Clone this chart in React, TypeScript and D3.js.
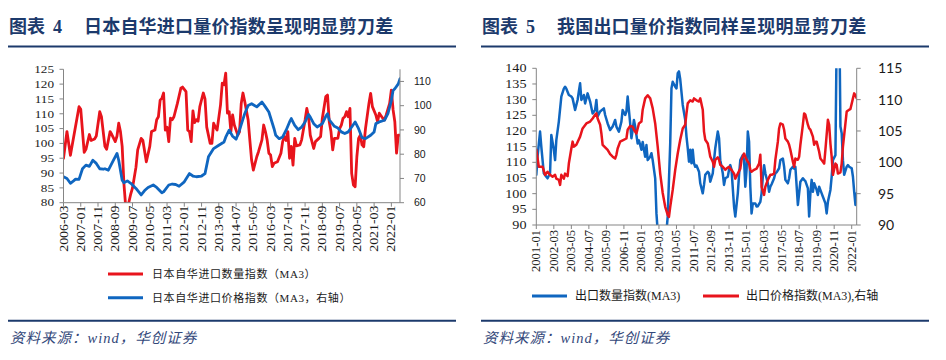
import React from "react";
import * as d3 from "d3";

// 图表4 日本自华进口：[距 2006-03 的月数, 指数]
const jpStart = "2006-03";
const jpQty: [number, number][] = [
  [0, 95], [2, 104], [4, 96], [9, 112.4], [10, 111.5], [12, 97], [13, 98], [15, 103], [16, 101], [18, 101.5],
  [19, 102.5], [21, 110.7], [22, 109], [24, 99], [25, 98], [27, 104], [28, 103], [30, 100.6], [31, 102.5], [32, 106.8],
  [33, 104], [34, 99], [35, 86.5], [36, 79], [37, 77.5], [38, 80.5], [39, 83], [40, 85], [42, 92], [43, 97.8],
  [45, 101.7], [46, 101], [48, 93.8], [50, 99], [51, 104], [53, 104.5], [54, 108], [55, 109], [56, 114.6], [57, 115.2],
  [58, 117], [59, 104.5], [60, 105.5], [61, 100.6], [62, 108.5], [63, 108], [64, 109], [66, 113.5], [68, 118.6], [69, 119],
  [71, 117.5], [72, 104.5], [73, 104], [74, 100.6], [75, 111], [76, 107], [77, 108], [78, 107.5], [79, 112.4], [81, 117],
  [82, 115], [83, 105.5], [85, 100], [86, 100], [87, 106.8], [88, 105.5], [89, 104.5], [91, 113], [92, 120.3], [93, 119.8],
  [94, 123.7], [95, 110.2], [96, 110.7], [97, 104], [98, 109.6], [99, 106.2], [101, 102.8], [102, 103.9], [103, 113.5], [104, 117],
  [105, 114.2], [107, 107.9], [108, 101], [109, 94.4], [110, 91], [112, 95.5], [113, 97.2], [115, 101.2], [116, 106.2], [117, 104],
  [118, 101.2], [119, 96.7], [120, 96.1], [121, 92.2], [122, 93.3], [124, 93.8], [126, 96.7], [127, 100.6], [128, 102.3], [129, 101],
  [130, 104], [131, 95], [132, 99], [133, 92.7], [134, 101.7], [135, 99.2], [137, 99.5], [138, 101.2], [140, 107.9], [141, 111.8],
  [142, 109], [143, 102.8], [145, 98.3], [146, 100.6], [148, 101.7], [149, 102.3], [150, 108.5], [152, 115.8], [153, 116.3], [154, 107.3],
  [155, 104], [156, 97.8], [157, 101.7], [159, 101.7], [160, 105], [161, 106.2], [162, 108.5], [163, 109], [164, 110.7], [165, 109],
  [166, 111.8], [167, 89.9], [168, 86], [169, 85.4], [170, 95.5], [171, 101.7], [172, 102.8], [173, 99.5], [174, 98.9], [175, 105],
  [177, 113.5], [178, 116.9], [179, 112.4], [181, 109.6], [182, 107.3], [183, 110.2], [185, 108.5], [186, 107.9], [187, 109.6], [189, 113.5],
  [190, 118], [191, 111.3], [192, 107.3], [193, 96.7], [194, 102.8], [195, 102.8],
];
const jpPrice: [number, number][] = [
  [0, 70.7], [2, 70], [4, 68], [6, 69.1], [7, 69.7], [9, 69.6], [11, 74], [13, 75.5], [15, 75], [17, 77.5],
  [19, 76.2], [21, 74], [23, 73.8], [24, 74], [26, 73.4], [28, 76.2], [31, 80.3], [32, 77.5], [34, 69.3], [35, 68.2],
  [37, 69], [39, 68], [42, 65.9], [45, 63.2], [47, 65], [49, 66.3], [52, 67.3], [54, 66.3], [57, 64.1], [58, 64.5],
  [61, 67.3], [63, 67.7], [65, 67.5], [67, 66.8], [70, 68.6], [73, 72], [75, 71], [77, 70.7], [80, 71], [82, 72],
  [84, 78.9], [87, 82.3], [90, 83.7], [93, 85], [94, 87], [96, 89.9], [98, 87.4], [100, 86.2], [102, 89.9], [105, 96.7],
  [107, 100.1], [109, 100.8], [112, 99.5], [115, 101.5], [117, 99.5], [119, 97.4], [122, 90.5], [123, 87.8], [125, 86.4], [127, 87.1],
  [129, 89.9], [131, 93.3], [132, 94.7], [134, 91.9], [136, 90.1], [138, 91.2], [140, 93.3], [142, 96.4], [143, 95.3], [145, 92.6],
  [147, 91.2], [150, 92.6], [152, 95.6], [153, 96.7], [154, 94.2], [157, 91.5], [159, 90.8], [161, 89.2], [163, 88.5], [165, 89.2],
  [167, 91.2], [169, 93.3], [171, 90.5], [173, 86.8], [175, 86.4], [178, 87.8], [180, 89.2], [181, 92.6], [183, 93.3], [186, 94],
  [188, 96.7], [190, 102.2], [191, 106.3], [192, 107], [194, 109], [195, 111.1],
];
const jpXTicks = [
  "2006-03", "2007-01", "2007-11", "2008-09", "2009-07", "2010-05", "2011-03", "2012-01", "2012-11", "2013-09",
  "2014-07", "2015-05", "2016-03", "2017-01", "2017-11", "2018-09", "2019-07", "2020-05", "2021-03", "2022-01",
];
const jpLeftTicks = [80, 85, 90, 95, 100, 105, 110, 115, 120, 125];
const jpRightTicks = [60, 70, 80, 90, 100, 110];

// 图表5 中国出口：[距 2001-01 的月数, 指数]
const cnStart = "2001-01";
const cnQty: [number, number][] = [
  [0, 106], [1, 111.8], [3, 119.8], [4, 115], [6, 106.5], [8, 105.4], [9, 104.9], [11, 106.5], [12, 118.7], [14, 114],
  [15, 110.7], [16, 117.1], [18, 123], [20, 131], [22, 133.5], [23, 134.1], [24, 133.5], [26, 131.5], [28, 131], [29, 130.4],
  [31, 126.7], [33, 129.9], [34, 132.6], [35, 135.2], [36, 129.9], [38, 131.5], [39, 128.8], [41, 132], [43, 129.4], [45, 125.6],
  [47, 126.7], [48, 129.9], [49, 124.6], [51, 126.2], [54, 127.2], [55, 125.1], [57, 122.4], [59, 120.3], [61, 121.4], [63, 123.5],
  [64, 121.4], [66, 119.8], [68, 123], [69, 126.7], [71, 125.1], [72, 126.2], [73, 131], [75, 122.4], [76, 117.7], [77, 120.3],
  [78, 123.5], [79, 121.4], [81, 116], [82, 117], [84, 114], [85, 116.5], [87, 111.8], [88, 115.5], [89, 110.7], [91, 111.8],
  [92, 112.9], [93, 110.7], [95, 104.9], [96, 93.7], [97, 88], [99, 80], [101, 78], [103, 84], [104, 88], [105, 92.7],
  [107, 116], [108, 133.6], [109, 135.7], [111, 134.1], [112, 133.6], [113, 138.4], [114, 139], [115, 136.5], [117, 128.3], [119, 123.5],
  [120, 118.2], [121, 114.5], [122, 110.2], [123, 114], [124, 109.7], [125, 114], [126, 109.7], [127, 108.6], [128, 109], [130, 107],
  [131, 103.3], [133, 100.1], [134, 102.8], [135, 106], [137, 107], [138, 106.5], [139, 103.8], [141, 106.5], [142, 110.7], [143, 114.5],
  [145, 119.8], [146, 117.7], [147, 110.7], [149, 106.5], [150, 102.8], [151, 104.9], [153, 105.4], [154, 107.6], [155, 109.1], [156, 107.6],
  [157, 101.7], [158, 95.9], [159, 92.7], [161, 100.1], [162, 106], [163, 110.7], [165, 112.3], [166, 110.7], [167, 102.2], [168, 107.6],
  [169, 119.8], [170, 116.6], [171, 102.2], [172, 93.7], [173, 96.9], [175, 96.9], [176, 95.9], [177, 96], [179, 97.4], [180, 100.1],
  [181, 105.4], [182, 109.1], [183, 106.5], [185, 103.3], [186, 100.6], [187, 102.2], [188, 103], [190, 104.9], [191, 106.5], [192, 106.8],
  [194, 108.1], [195, 110.7], [197, 111.2], [198, 108.6], [199, 104.4], [201, 103.3], [202, 104.9], [203, 107.6], [205, 108.6], [206, 108],
  [207, 108.6], [209, 96.4], [210, 100.1], [211, 103.8], [213, 104.9], [214, 104.4], [215, 104], [217, 101.7], [218, 92.7], [219, 100.1],
  [220, 104.4], [221, 100.6], [222, 103.3], [224, 101.2], [225, 99.6], [226, 102.2], [228, 100.1], [229, 99], [231, 96.9], [232, 93.7],
  [233, 97.4], [235, 101.2], [236, 105.4], [237, 110.7], [239, 112.3], [240, 150], [241, 170], [242, 160], [243, 121.4], [244, 119.3],
  [245, 110.7], [246, 106], [248, 108.6], [249, 109.1], [250, 108.6], [252, 108.1], [253, 105.4], [254, 100.6], [255, 96.4], [256, 100.1],
];
const cnPrice: [number, number][] = [
  [0, 102], [2, 99.3], [5, 99.3], [7, 98], [9, 98.5], [11, 98], [13, 97.7], [15, 98], [16, 97.4], [18, 97.2],
  [19, 96.4], [20, 98], [22, 97.4], [23, 98.2], [25, 97.8], [26, 99.8], [28, 102.2], [29, 103.3], [30, 102.5], [32, 102.8],
  [35, 104.1], [37, 105.4], [40, 106.2], [43, 106.5], [45, 107], [47, 107.6], [48, 107.8], [49, 107], [51, 106], [52, 104.6],
  [53, 102.8], [55, 102.4], [57, 102], [59, 101.3], [61, 100.9], [63, 100.6], [64, 101.2], [65, 102.2], [67, 103.3], [69, 103.5],
  [72, 103.8], [73, 105.2], [75, 105.8], [77, 105.7], [78, 105.2], [80, 104.6], [81, 105.4], [82, 106.2], [84, 106.5], [85, 108.4],
  [87, 110.2], [89, 110.7], [91, 110.2], [93, 108.6], [95, 106.2], [97, 102.5], [99, 98.2], [101, 95.1], [103, 92.9], [105, 91.6],
  [106, 91.3], [107, 92.9], [109, 95.6], [111, 98.8], [113, 101.4], [115, 103.6], [117, 105.4], [119, 106], [120, 107.8], [121, 109.4],
  [123, 109.9], [125, 109.7], [126, 110.2], [128, 109.9], [130, 109.7], [131, 110.2], [133, 108.4], [134, 104.9], [135, 103.6], [137, 103],
  [138, 102], [139, 100.9], [141, 100.1], [142, 99.3], [143, 100.4], [145, 100.8], [146, 100.4], [147, 99.6], [149, 99.3], [151, 98.8],
  [152, 99], [154, 99.3], [155, 99], [156, 98.8], [158, 98.2], [159, 97.4], [160, 97.8], [163, 99], [164, 100.4], [166, 101.4],
  [167, 100.9], [168, 100.4], [170, 99.8], [171, 98.8], [172, 98.5], [174, 98.8], [176, 99], [178, 99.8], [179, 101.2], [180, 96.1],
  [182, 94.8], [183, 96.1], [185, 97.2], [187, 98], [188, 98], [190, 98.2], [191, 100.4], [193, 103.3], [194, 105.4], [195, 106.2],
  [197, 106], [198, 105.2], [199, 103.8], [201, 103.3], [202, 102.8], [203, 102], [205, 100.1], [206, 99.3], [207, 100.6], [209, 100.4],
  [210, 100.9], [211, 102.8], [213, 106], [214, 107.8], [215, 107.6], [217, 106], [218, 105.4], [219, 105.2], [221, 104.1], [222, 102.8],
  [223, 103.3], [224, 103.3], [226, 101.7], [227, 100.6], [229, 100.1], [230, 99.8], [231, 102], [233, 106.8], [234, 106], [235, 103],
  [236, 100.9], [237, 98], [239, 99.8], [240, 99.6], [241, 98.2], [243, 98.4], [244, 99.8], [245, 102.5], [247, 106.2], [248, 108.1],
  [250, 108.4], [251, 108.5], [253, 110.2], [254, 111], [255, 110.7], [256, 110.2],
];
const cnXTicks = [
  "2001-01", "2002-03", "2003-05", "2004-07", "2005-09", "2006-11", "2008-01", "2009-03", "2010-05", "2011-07",
  "2012-09", "2013-11", "2015-01", "2016-03", "2017-05", "2018-07", "2019-09", "2020-11", "2022-01",
];
const cnLeftTicks = [90, 95, 100, 105, 110, 115, 120, 125, 130, 135, 140];
const cnRightTicks = [90, 95, 100, 105, 110, 115];

const RED = "#E8141C";
const BLUE = "#0F66C0";
const NAVY = "#1C3A6C";
const AXIS = "#858585";
const SERIF = "'Liberation Serif', 'Noto Sans CJK SC', serif";
const CJK = "'Liberation Serif', 'Noto Sans CJK SC', sans-serif";

const ym = (s: string) => {
  const [y, m] = s.split("-").map(Number);
  return y * 12 + m - 1;
};

type Series = { data: [number, number][]; axis: "L" | "R"; color: string; width: number };

function DualPlot(props: {
  id: string; start: string; xMax: number;
  left: number; right: number; top: number; bottom: number;
  leftDomain: [number, number]; rightDomain: [number, number];
  leftTicks: number[]; rightTicks: number[]; xTicks: string[];
  series: Series[];
  leftLab: { x: number; size: number; sx: number };
  rightLab: { x: number; size: number; family: string };
  xLab: { gap: number; size: number; length: number };
}) {
  const p = props;
  const x = d3.scaleLinear().domain([0, p.xMax]).range([p.left, p.right]);
  const yL = d3.scaleLinear().domain(p.leftDomain).range([p.bottom, p.top]);
  const yR = d3.scaleLinear().domain(p.rightDomain).range([p.bottom, p.top]);
  const s0 = ym(p.start);
  return (
    <g>
      <defs>
        <clipPath id={`clip-${p.id}`}>
          <rect x={p.left} y={p.top} width={p.right - p.left} height={p.bottom - p.top} />
        </clipPath>
      </defs>
      <g clipPath={`url(#clip-${p.id})`}>
        {p.series.map((s, i) => {
          const y = s.axis === "L" ? yL : yR;
          const line = d3.line<[number, number]>().x((d) => x(d[0])).y((d) => y(d[1]));
          return (
            <path key={i} d={line(s.data) || ""} fill="none" stroke={s.color}
              strokeWidth={s.width} strokeLinejoin="round" strokeLinecap="round" />
          );
        })}
      </g>
      <line x1={p.left} x2={p.left} y1={p.top} y2={p.bottom} stroke={AXIS} />
      <line x1={p.right} x2={p.right} y1={p.top} y2={p.bottom} stroke={AXIS} />
      <line x1={p.left} x2={p.right} y1={p.bottom} y2={p.bottom} stroke={AXIS} />
      {p.leftTicks.map((t) => (
        <g key={`l${t}`}>
          <line x1={p.left - 4} x2={p.left} y1={yL(t)} y2={yL(t)} stroke={AXIS} />
          <g transform={`translate(${p.leftLab.x},${yL(t)}) scale(${p.leftLab.sx},1)`}>
            <text textAnchor="end" dy="0.34em" fontFamily={SERIF} fontSize={p.leftLab.size} fill="#1a1a1a">{t}</text>
          </g>
        </g>
      ))}
      {p.rightTicks.map((t) => (
        <g key={`r${t}`}>
          <line x1={p.right} x2={p.right + 4} y1={yR(t)} y2={yR(t)} stroke={AXIS} />
          <text x={p.rightLab.x} y={yR(t)} dy="0.36em" fontFamily={p.rightLab.family}
            fontSize={p.rightLab.size} fill="#1a1a1a">{t}</text>
        </g>
      ))}
      {p.xTicks.map((lab) => {
        const xx = x(ym(lab) - s0);
        return (
          <g key={lab}>
            <line x1={xx} x2={xx} y1={p.bottom} y2={p.bottom + 4} stroke={AXIS} />
            <text transform={`translate(${xx},${p.bottom + p.xLab.gap}) rotate(-90)`} textAnchor="end"
              dy="0.34em" fontFamily={SERIF} fontSize={p.xLab.size} fill="#1a1a1a"
              textLength={p.xLab.length} lengthAdjust="spacingAndGlyphs">{lab}</text>
          </g>
        );
      })}
    </g>
  );
}

function Frame({ dx, num, title }: { dx: number; num: string; title: string }) {
  return (
    <g transform={`translate(${dx},0)`}>
      <text x={9} y={33} fontFamily="'Noto Sans CJK SC', sans-serif" fontWeight={700} fontSize={18} fill={NAVY}>图表</text>
      <text x={53} y={33} fontFamily="'Liberation Serif', serif" fontWeight={700} fontSize={18} fill={NAVY}>{num}</text>
      <text x={84} y={33} fontFamily="'Noto Sans CJK SC', sans-serif" fontWeight={700} fontSize={18}
        letterSpacing={0.2} fill={NAVY}>{title}</text>
      <line x1={8} x2={456} y1={46.5} y2={46.5} stroke={NAVY} strokeWidth={2} />
      <line x1={8} x2={456} y1={320.7} y2={320.7} stroke={NAVY} strokeWidth={2} />
      <text x={10} y={343} fontFamily={CJK} fontStyle="italic" fontSize={14.5} letterSpacing={1} fill="#33487a">
        资料来源：wind，华创证券
      </text>
    </g>
  );
}

export default function App() {
  return (
    <svg width={946} height={360} style={{ position: "absolute", left: 0, top: 0, background: "#fff" }}>
      <rect width={946} height={360} fill="#fff" />
      <Frame dx={0} num="4" title="日本自华进口量价指数呈现明显剪刀差" />
      <Frame dx={473} num="5" title="我国出口量价指数同样呈现明显剪刀差" />

      <DualPlot id="jp" start={jpStart} xMax={195} left={63.5} right={400} top={69.3} bottom={202.7}
        leftDomain={[80, 125]} rightDomain={[60, 115]} leftTicks={jpLeftTicks} rightTicks={jpRightTicks}
        xTicks={jpXTicks}
        series={[
          { data: jpQty, axis: "L", color: RED, width: 2.8 },
          { data: jpPrice, axis: "R", color: BLUE, width: 2.8 },
        ]}
        leftLab={{ x: 54, size: 11, sx: 1.2 }}
        rightLab={{ x: 414, size: 10.5, family: "'Liberation Sans', sans-serif" }}
        xLab={{ gap: 3, size: 12, length: 46 }} />

      <DualPlot id="cn" start={cnStart} xMax={256} left={536.3} right={856.7} top={68.3} bottom={225}
        leftDomain={[90, 140]} rightDomain={[90, 115]} leftTicks={cnLeftTicks} rightTicks={cnRightTicks}
        xTicks={cnXTicks}
        series={[
          { data: cnQty, axis: "L", color: BLUE, width: 2.5 },
          { data: cnPrice, axis: "R", color: RED, width: 2.5 },
        ]}
        leftLab={{ x: 526.5, size: 12, sx: 1.18 }}
        rightLab={{ x: 878, size: 14, family: "Lato, 'Open Sans', sans-serif" }}
        xLab={{ gap: 5, size: 11.5, length: 42 }} />

      {/* 图例 */}
      <g fontFamily={CJK} fill="#1a1a1a">
        <line x1={108} x2={143} y1={274} y2={274} stroke={RED} strokeWidth={3} />
        <text x={152} y={274} dy="0.36em" fontSize={11} letterSpacing={0.6}>日本自华进口数量指数（MA3）</text>
        <line x1={108} x2={143} y1={297.7} y2={297.7} stroke={BLUE} strokeWidth={3} />
        <text x={152} y={297.7} dy="0.36em" fontSize={11} letterSpacing={0.6}>日本自华进口价格指数（MA3，右轴）</text>

        <line x1={532} x2={567} y1={296} y2={296} stroke={BLUE} strokeWidth={3} />
        <text x={575} y={296} dy="0.36em" fontSize={12}>出口数量指数(MA3)</text>
        <line x1={703} x2={739} y1={296} y2={296} stroke={RED} strokeWidth={3} />
        <text x={746} y={296} dy="0.36em" fontSize={12}>出口价格指数(MA3),右轴</text>
      </g>
    </svg>
  );
}
